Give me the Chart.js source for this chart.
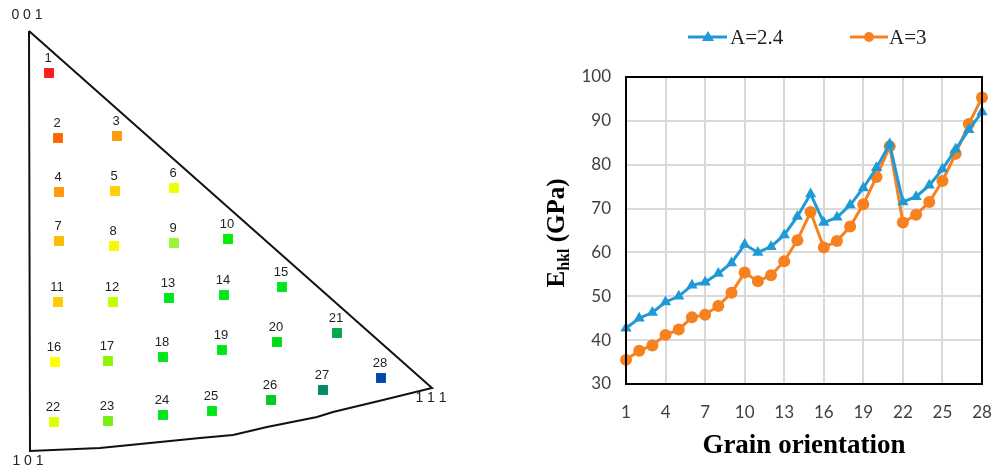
<!DOCTYPE html>
<html>
<head>
<meta charset="utf-8">
<script src="https://cdn.jsdelivr.net/npm/chart.js@4/dist/chart.umd.min.js"></script>
<style>
  html, body { margin: 0; padding: 0; background: #fff; }
  #wrap { position: relative; width: 992px; height: 468px; overflow: hidden; }
  #ipf { position: absolute; left: 0; top: 0; }
  #line { position: absolute; left: 540px; top: 0; }
</style>
</head>
<body>
<div id="wrap">
  <canvas id="ipf" width="450" height="468"></canvas>
  <canvas id="line" width="452" height="468"></canvas>
</div>
<script>
// ---------- Data: inverse pole figure (grain orientations) ----------
const grainIds = [1,2,3,4,5,6,7,8,9,10,11,12,13,14,15,16,17,18,19,20,21,22,23,24,25,26,27,28];
const ipfX = [49,58,117,59,115,174,59,114,174,228,58,113,169,224,282,55,108,163,222,277,337,54,108,163,212,271,323,381];
const ipfY = [73,138,136,192,191,188,241,246,243,239,302,302,298,295,287,362,361,357,350,342,333,422,421,415,411,400,390,378];
const grainColors = ['#ff1a1a','#ff6600','#ff9a10','#ff9a10','#ffd000','#eeff00','#ffbb00','#f8f800','#99f533','#00ee00',
  '#ffcc00','#c2ff00','#00e61a','#00e61a','#00e61a','#ffff00','#8cf500','#00e61a','#00e61a','#00dc1a',
  '#00a84a','#e0ff00','#77ee10','#00e61a','#00e61a','#00cc22','#008a66','#0048aa'];
// Stereographic triangle boundary: 001 -> 111 -> (great circle arc) -> 101 -> 001
const boundaryX = [29,432,383,333,317,267,233,200,150,100,30,29];
const boundaryY = [31,388,400,412,417,427,435,438,443,448,451,31];
const cornerLabels = ['0 0 1','1 1 1','1 0 1'];
const cornerLabelX = [27,431,28];
const cornerLabelY = [15,398,461];

// ---------- Data: Young's modulus per grain orientation ----------
const grainOrientation = [1,2,3,4,5,6,7,8,9,10,11,12,13,14,15,16,17,18,19,20,21,22,23,24,25,26,27,28];
const seriesA24 = [42.7,45.0,46.3,48.7,50.0,52.5,53.2,55.2,57.6,61.8,60.0,61.3,64.0,68.2,73.3,66.8,68.0,70.8,74.7,79.3,84.7,71.5,72.7,75.3,79.0,83.5,88.0,92.0];
const seriesA3  = [35.5,37.6,38.8,41.2,42.4,45.2,45.8,47.8,50.8,55.4,53.4,54.8,58.0,62.8,69.2,61.1,62.6,65.9,71.0,77.2,84.2,66.8,68.6,71.5,76.3,82.5,89.3,95.3];
const seriesNames = ['A=2.4','A=3'];
const xTickValues = [1,4,7,10,13,16,19,22,25,28];
const yTickValues = [30,40,50,60,70,80,90,100];

// ---------- Left chart: IPF ----------
const ipfLabelPlugin = {
  id: 'ipfLabels',
  afterDatasetsDraw(chart) {
    const ctx = chart.ctx;
    const meta = chart.getDatasetMeta(1);
    ctx.save();
    ctx.fillStyle = '#222';
    ctx.font = '13px "Liberation Sans", Arial, sans-serif';
    ctx.textAlign = 'center';
    ctx.textBaseline = 'middle';
    meta.data.forEach((pt, i) => {
      ctx.fillText(String(grainIds[i]), pt.x - 1, pt.y - 15);
    });
    ctx.font = '14px "Liberation Sans", Arial, sans-serif';
    const xs = chart.scales.x, ys = chart.scales.y;
    cornerLabels.forEach((t, i) => {
      ctx.fillText(t, xs.getPixelForValue(cornerLabelX[i]), ys.getPixelForValue(cornerLabelY[i]));
    });
    ctx.restore();
  }
};

new Chart(document.getElementById('ipf'), {
  type: 'scatter',
  data: {
    datasets: [
      {
        data: boundaryX.map((x, i) => ({x, y: boundaryY[i]})),
        showLine: true,
        borderColor: '#111',
        borderWidth: 2,
        pointRadius: 0,
        tension: 0,
        fill: false,
        clip: false
      },
      {
        data: ipfX.map((x, i) => ({x, y: ipfY[i]})),
        pointStyle: 'rect',
        pointRadius: 7,
        backgroundColor: grainColors,
        borderColor: grainColors,
        borderWidth: 0,
        showLine: false,
        clip: false
      }
    ]
  },
  options: {
    responsive: false,
    animation: false,
    layout: { padding: 0, autoPadding: false },
    plugins: { legend: { display: false }, tooltip: { enabled: false } },
    scales: {
      x: { type: 'linear', min: 0, max: 450, display: false },
      y: { type: 'linear', min: 0, max: 468, reverse: true, display: false }
    }
  },
  plugins: [ipfLabelPlugin]
});

// ---------- Right chart: E_hkl vs grain orientation ----------
const BLUE = '#1f9ad6';
const ORANGE = '#f7811f';

const decorPlugin = {
  id: 'decor',
  afterDraw(chart) {
    const ctx = chart.ctx;
    const a = chart.chartArea;
    ctx.save();
    // plot border
    ctx.strokeStyle = '#000';
    ctx.lineWidth = 2;
    ctx.strokeRect(a.left, a.top, a.right - a.left, a.bottom - a.top);

    // Legend
    const ly = 37;
    ctx.lineWidth = 3;
    ctx.strokeStyle = BLUE;
    ctx.beginPath(); ctx.moveTo(148, ly); ctx.lineTo(187, ly); ctx.stroke();
    ctx.fillStyle = BLUE;
    ctx.beginPath(); ctx.moveTo(168, ly - 6); ctx.lineTo(174, ly + 4); ctx.lineTo(162, ly + 4); ctx.closePath(); ctx.fill();
    ctx.strokeStyle = ORANGE;
    ctx.beginPath(); ctx.moveTo(310, ly); ctx.lineTo(348, ly); ctx.stroke();
    ctx.fillStyle = ORANGE;
    ctx.beginPath(); ctx.arc(329, ly, 5, 0, Math.PI * 2); ctx.fill();
    ctx.fillStyle = '#222';
    ctx.font = '21px "Liberation Serif", "Times New Roman", serif';
    ctx.textAlign = 'left';
    ctx.textBaseline = 'middle';
    ctx.fillText(seriesNames[0], 190, ly + 1);
    ctx.fillText(seriesNames[1], 349, ly + 1);

    // X title
    ctx.fillStyle = '#000';
    ctx.font = 'bold 27px "Liberation Serif", "Times New Roman", serif';
    ctx.textAlign = 'center';
    ctx.fillText('Grain orientation', 264, 446);

    // Y title with subscript
    ctx.translate(18, 233);
    ctx.rotate(-Math.PI / 2);
    const big = 'bold 25px "Liberation Serif", "Times New Roman", serif';
    const small = 'bold 16px "Liberation Serif", "Times New Roman", serif';
    ctx.font = big; const wE = ctx.measureText('E').width; const wP = ctx.measureText(' (GPa)').width;
    ctx.font = small; const wS = ctx.measureText('hkl').width;
    let x0 = -(wE + wS + wP) / 2;
    ctx.textAlign = 'left';
    ctx.textBaseline = 'middle';
    ctx.font = big; ctx.fillText('E', x0, 0);
    ctx.font = small; ctx.fillText('hkl', x0 + wE, 7);
    ctx.font = big; ctx.fillText(' (GPa)', x0 + wE + wS, 0);
    ctx.restore();
  }
};

new Chart(document.getElementById('line'), {
  type: 'line',
  data: {
    datasets: [
      {
        label: seriesNames[0],
        data: grainOrientation.map((x, i) => ({x, y: seriesA24[i]})),
        borderColor: BLUE,
        backgroundColor: BLUE,
        borderWidth: 3,
        pointStyle: 'triangle',
        pointRadius: 6.5,
        pointBorderWidth: 0,
        tension: 0,
        clip: false
      },
      {
        label: seriesNames[1],
        data: grainOrientation.map((x, i) => ({x, y: seriesA3[i]})),
        borderColor: ORANGE,
        backgroundColor: ORANGE,
        borderWidth: 3,
        pointStyle: 'circle',
        pointRadius: 6,
        pointBorderWidth: 0,
        tension: 0,
        clip: false
      }
    ]
  },
  options: {
    responsive: false,
    animation: false,
    layout: { padding: { top: 77, right: 10, left: 0, bottom: 0 }, autoPadding: false },
    plugins: { legend: { display: false }, tooltip: { enabled: false } },
    scales: {
      x: {
        type: 'linear', min: 1, max: 28,
        afterBuildTicks(scale) { scale.ticks = xTickValues.map(v => ({value: v})); },
        afterFit(scale) { scale.height = 84; scale.paddingLeft = 0; scale.paddingRight = 0; },
        grid: { color: '#d9d9d9', lineWidth: 2, drawTicks: false },
        border: { display: false },
        ticks: { color: '#404040', font: { family: 'Lato, "Open Sans", sans-serif', size: 17 }, padding: 18, maxRotation: 0, autoSkip: false }
      },
      y: {
        type: 'linear', min: 30, max: 100,
        afterBuildTicks(scale) { scale.ticks = yTickValues.map(v => ({value: v})); },
        afterFit(scale) { scale.width = 86; scale.paddingTop = 0; scale.paddingBottom = 0; },
        grid: { color: '#d9d9d9', lineWidth: 2, drawTicks: false },
        border: { display: false },
        ticks: { color: '#404040', font: { family: 'Lato, "Open Sans", sans-serif', size: 17 }, padding: 15 }
      }
    }
  },
  plugins: [decorPlugin]
});
</script>
</body>
</html>
